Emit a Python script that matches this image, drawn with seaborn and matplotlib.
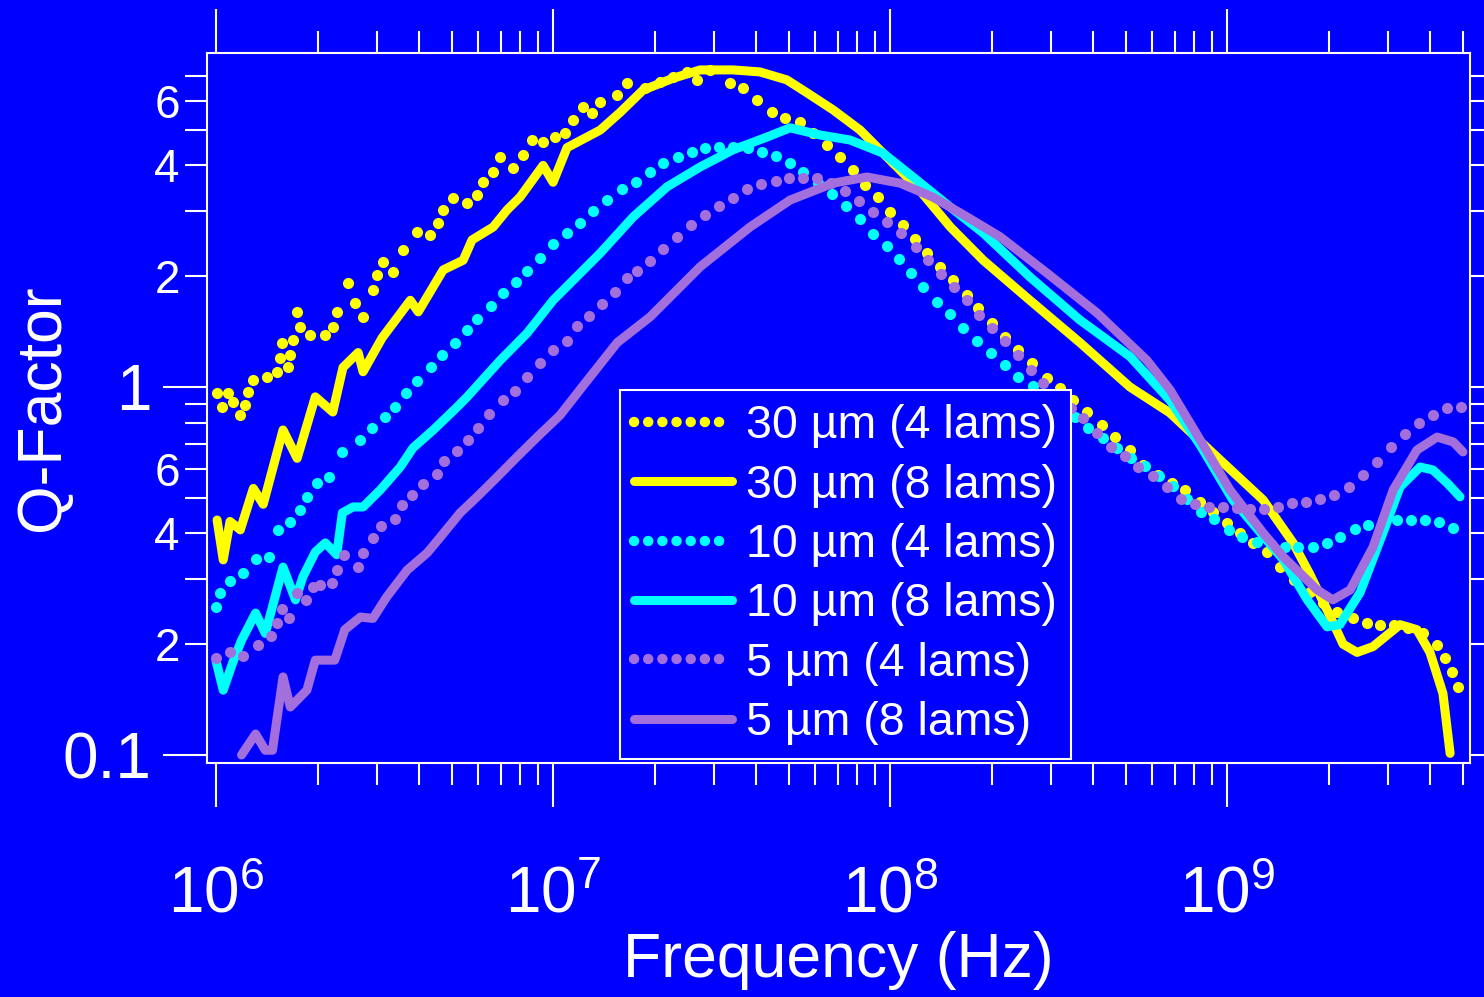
import matplotlib
matplotlib.use("Agg")
import matplotlib.pyplot as plt
from matplotlib.lines import Line2D
from matplotlib.ticker import FixedLocator, FixedFormatter, LogLocator, NullFormatter
import seaborn as sns

BLUE = "#0000FF"
YELLOW = "#FFFF00"
CYAN = "#00FFFF"
PURPLE = "#A26FDD"

# 30 um, 4 lams (dotted)
f_30_4 = [1.007e6, 1.042e6, 1.085e6, 1.123e6, 1.178e6, 1.219e6, 1.245e6, 1.288e6, 1.417e6, 1.517e6,
          1.548e6, 1.57e6, 1.635e6, 1.658e6, 1.692e6, 1.739e6, 1.775e6, 1.901e6, 2.106e6, 2.225e6,
          2.286e6, 2.465e6, 2.585e6, 2.731e6, 2.924e6, 3.005e6, 3.131e6, 3.352e6, 3.588e6, 3.948e6,
          4.315e6, 4.558e6, 4.717e6, 5.05e6, 5.557e6, 5.952e6, 6.2e6, 6.637e6, 6.962e6, 7.607e6,
          8.147e6, 8.663e6, 9.34e6, 1.014e7, 1.085e7, 1.146e7, 1.227e7, 1.305e7, 1.379e7, 1.549e7,
          1.659e7, 1.875e7, 2.077e7, 2.27e7, 2.498e7, 2.675e7, 2.924e7, 3.35e7, 3.663e7, 4.03e7,
          4.466e7, 4.88e7, 5.41e7, 5.91e7, 6.50e7, 7.11e7, 7.77e7, 8.43e7, 9.21e7, 1.0e8,
          1.093e8, 1.187e8, 1.288e8, 1.408e8, 1.538e8, 1.692e8, 1.824e8, 2.008e8, 2.194e8, 2.398e8,
          2.638e8, 2.924e8, 3.196e8, 3.49e8, 3.842e8, 4.257e8, 4.653e8, 5.156e8, 5.632e8, 6.242e8,
          6.867e8, 7.507e8, 8.317e8, 9.09e8, 1.0e9, 1.093e9, 1.195e9, 1.314e9, 1.437e9, 1.58e9,
          1.763e9, 1.927e9, 2.121e9, 2.366e9, 2.603e9, 2.844e9, 3.13e9, 3.44e9, 3.815e9, 4.2e9,
          4.436e9, 4.653e9, 4.847e9]
q_30_4 = [0.963, 0.882, 0.963, 0.91, 0.839, 0.894, 0.969, 1.045, 1.065, 1.098,
          1.199, 1.317, 1.133, 1.222, 1.342, 1.599, 1.456, 1.384, 1.384, 1.456,
          1.599, 1.917, 1.691, 1.55, 1.835, 2.015, 2.186, 2.053, 2.357, 2.637,
          2.588, 2.791, 3.027, 3.264, 3.162, 3.325, 3.606, 3.839, 4.217, 3.937,
          4.27, 4.691, 4.633, 4.779, 4.9, 5.315, 5.767, 5.555, 5.95, 6.216,
          6.70, 6.494, 6.744, 6.958, 7.178, 6.83, 7.27, 6.70, 6.49, 6.03,
          5.59, 5.38, 5.25, 4.90, 4.55, 4.22, 3.89, 3.54, 3.28, 2.99,
          2.76, 2.53, 2.31, 2.12, 1.953, 1.778, 1.64, 1.493, 1.367, 1.26,
          1.162, 1.058, 0.994, 0.922, 0.855, 0.788, 0.731, 0.674, 0.614, 0.577,
          0.548, 0.525, 0.487, 0.457, 0.427, 0.401, 0.377, 0.356, 0.324, 0.299,
          0.277, 0.259, 0.245, 0.236, 0.228, 0.226, 0.226, 0.221, 0.215, 0.199,
          0.184, 0.168, 0.153]

# 30 um, 8 lams (solid)
f_30_8 = [1.007e6, 1.05e6, 1.10e6, 1.18e6, 1.29e6, 1.38e6, 1.58e6, 1.74e6, 1.97e6, 2.22e6,
          2.38e6, 2.64e6, 2.73e6, 3.11e6, 3.77e6, 3.98e6, 4.72e6, 5.41e6, 5.75e6, 6.64e6,
          7.31e6, 7.98e6, 9.34e6, 1.0e7, 1.10e7, 1.38e7, 1.58e7, 1.85e7, 2.27e7, 2.73e7,
          3.42e7, 4.11e7, 4.94e7, 5.67e7, 6.78e7, 8.15e7, 9.53e7, 1.20e8, 1.51e8, 1.89e8,
          2.60e8, 3.66e8, 5.15e8, 6.77e8, 9.09e8, 1.28e9, 1.57e9, 1.76e9, 1.98e9, 2.21e9,
          2.43e9, 2.71e9, 3.26e9, 3.66e9, 4.0e9, 4.37e9, 4.59e9]
q_30_8 = [0.435, 0.339, 0.431, 0.409, 0.53, 0.48, 0.764, 0.64, 0.94, 0.855,
          1.13, 1.24, 1.10, 1.36, 1.72, 1.60, 2.08, 2.21, 2.51, 2.72,
          3.03, 3.28, 4.0, 3.6, 4.47, 4.99, 5.57, 6.41, 6.9, 7.27,
          7.27, 7.18, 6.83, 6.3, 5.66, 4.99, 4.32, 3.50, 2.72, 2.21,
          1.72, 1.32, 1.0, 0.85, 0.66, 0.493, 0.377, 0.31, 0.248, 0.20,
          0.19, 0.197, 0.226, 0.219, 0.19, 0.147, 0.101]

# 10 um, 4 lams (dotted)
f_10_4 = [1.0e6, 1.03e6, 1.10e6, 1.20e6, 1.31e6, 1.44e6, 1.53e6, 1.66e6, 1.78e6, 1.86e6,
          1.99e6, 2.16e6, 2.36e6, 2.68e6, 2.90e6, 3.17e6, 3.40e6, 3.66e6, 3.95e6, 4.34e6,
          4.69e6, 5.12e6, 5.56e6, 5.94e6, 6.54e6, 7.11e6, 7.77e6, 8.37e6, 9.15e6, 1.0e7,
          1.10e7, 1.20e7, 1.31e7, 1.45e7, 1.60e7, 1.76e7, 1.94e7, 2.12e7, 2.35e7, 2.58e7,
          2.82e7, 3.11e7, 3.42e7, 3.79e7, 4.17e7, 4.59e7, 5.05e7, 5.52e7, 6.11e7, 6.73e7,
          7.40e7, 8.15e7, 8.91e7, 9.80e7, 1.06e8, 1.15e8, 1.25e8, 1.38e8, 1.51e8, 1.65e8,
          1.81e8, 1.99e8, 2.19e8, 2.40e8, 2.66e8, 2.92e8, 3.21e8, 3.54e8, 3.87e8, 4.29e8,
          4.72e8, 5.19e8, 5.71e8, 6.29e8, 6.92e8, 7.61e8, 8.38e8, 9.15e8, 1.01e9, 1.11e9,
          1.23e9, 1.35e9, 1.49e9, 1.62e9, 1.80e9, 1.98e9, 2.16e9, 2.40e9, 2.62e9, 2.90e9,
          3.19e9, 3.51e9, 3.87e9, 4.26e9, 4.69e9]
q_10_4 = [0.253, 0.276, 0.297, 0.313, 0.341, 0.345, 0.409, 0.43, 0.463, 0.503,
          0.549, 0.569, 0.666, 0.718, 0.774, 0.829, 0.882, 0.963, 1.04, 1.13,
          1.22, 1.32, 1.43, 1.53, 1.66, 1.80, 1.93, 2.07, 2.24, 2.45,
          2.62, 2.79, 3.01, 3.22, 3.45, 3.6, 3.84, 4.06, 4.21, 4.35,
          4.46, 4.49, 4.49, 4.46, 4.35, 4.24, 4.06, 3.84, 3.59, 3.34,
          3.10, 2.86, 2.61, 2.41, 2.23, 2.04, 1.87, 1.70, 1.58, 1.45,
          1.33, 1.24, 1.15, 1.065, 1.006, 0.94, 0.882, 0.829, 0.774, 0.727,
          0.683, 0.641, 0.61, 0.573, 0.538, 0.496, 0.458, 0.438, 0.409, 0.392,
          0.379, 0.375, 0.367, 0.367, 0.367, 0.377, 0.391, 0.411, 0.421, 0.433,
          0.435, 0.435, 0.435, 0.430, 0.414]

# 10 um, 8 lams (solid)
f_10_8 = [1.0e6, 1.05e6, 1.12e6, 1.19e6, 1.31e6, 1.40e6, 1.58e6, 1.72e6, 1.81e6, 1.97e6,
          2.11e6, 2.28e6, 2.37e6, 2.55e6, 2.73e6, 3.07e6, 3.52e6, 3.84e6, 4.41e6, 5.19e6,
          5.56e6, 6.96e6, 8.37e6, 1.0e7, 1.38e7, 1.73e7, 2.18e7, 2.73e7, 3.42e7, 4.32e7,
          5.05e7, 6.19e7, 7.60e7, 9.53e7, 1.20e8, 1.51e8, 1.89e8, 2.60e8, 3.66e8, 5.15e8,
          6.77e8, 8.32e8, 1.04e9, 1.47e9, 1.73e9, 1.98e9, 2.16e9, 2.48e9, 2.90e9, 3.26e9,
          3.74e9, 4.08e9, 4.50e9, 4.91e9]
q_10_8 = [0.18, 0.150, 0.178, 0.205, 0.243, 0.214, 0.324, 0.264, 0.305, 0.356,
          0.377, 0.35, 0.455, 0.472, 0.472, 0.525, 0.606, 0.683, 0.764, 0.882,
          0.94, 1.18, 1.40, 1.72, 2.31, 2.90, 3.50, 3.96, 4.41, 4.78,
          5.06, 4.84, 4.69, 4.32, 3.65, 3.08, 2.62, 1.99, 1.52, 1.21,
          0.92, 0.695, 0.493, 0.339, 0.264, 0.223, 0.226, 0.276, 0.401, 0.535,
          0.606, 0.595, 0.548, 0.503]

# 5 um, 4 lams (dotted)
f_5_4 = [1.0e6, 1.10e6, 1.20e6, 1.33e6, 1.46e6, 1.52e6, 1.57e6, 1.65e6, 1.74e6, 1.85e6,
         1.94e6, 2.04e6, 2.21e6, 2.28e6, 2.40e6, 2.64e6, 2.73e6, 2.92e6, 3.09e6, 3.40e6,
         3.56e6, 3.81e6, 4.12e6, 4.53e6, 4.75e6, 5.18e6, 5.59e6, 5.98e6, 6.45e6, 7.10e6,
         7.72e6, 8.37e6, 9.15e6, 1.0e7, 1.10e7, 1.18e7, 1.28e7, 1.40e7, 1.53e7, 1.66e7,
         1.78e7, 1.94e7, 2.12e7, 2.33e7, 2.56e7, 2.82e7, 3.11e7, 3.42e7, 3.76e7, 4.15e7,
         4.58e7, 5.02e7, 5.52e7, 6.08e7, 6.68e7, 7.36e7, 8.09e7, 8.91e7, 9.80e7, 1.08e8,
         1.19e8, 1.30e8, 1.42e8, 1.55e8, 1.69e8, 1.84e8, 2.01e8, 2.19e8, 2.40e8, 2.62e8,
         2.85e8, 3.13e8, 3.44e8, 3.74e8, 4.10e8, 4.53e8, 4.98e8, 5.45e8, 6.03e8, 6.65e8,
         7.28e8, 8.05e8, 8.82e8, 9.71e8, 1.07e9, 1.17e9, 1.29e9, 1.42e9, 1.56e9, 1.72e9,
         1.89e9, 2.08e9, 2.30e9, 2.53e9, 2.79e9, 3.06e9, 3.37e9, 3.72e9, 4.09e9, 4.50e9,
         4.96e9]
q_5_4 = [0.184, 0.19, 0.186, 0.199, 0.21, 0.229, 0.25, 0.236, 0.276, 0.264,
         0.286, 0.29, 0.293, 0.318, 0.35, 0.324, 0.354, 0.389, 0.419, 0.438,
         0.478, 0.508, 0.545, 0.58, 0.629, 0.67, 0.718, 0.774, 0.845, 0.922,
         0.975, 1.065, 1.16, 1.26, 1.33, 1.46, 1.56, 1.68, 1.81, 1.98,
         2.06, 2.20, 2.37, 2.56, 2.76, 2.93, 3.10, 3.26, 3.45, 3.56,
         3.62, 3.69, 3.69, 3.69, 3.59, 3.41, 3.20, 2.99, 2.81, 2.62,
         2.40, 2.21, 2.03, 1.87, 1.72, 1.57, 1.45, 1.33, 1.22, 1.11,
         1.025, 0.94, 0.877, 0.824, 0.75, 0.687, 0.65, 0.606, 0.573, 0.535,
         0.496, 0.481, 0.472, 0.472, 0.47, 0.466, 0.466, 0.472, 0.484, 0.487,
         0.496, 0.509, 0.535, 0.577, 0.626, 0.687, 0.745, 0.798, 0.839, 0.877,
         0.882]

# 5 um, 8 lams (solid)
f_5_8 = [1.19e6, 1.31e6, 1.40e6, 1.47e6, 1.58e6, 1.66e6, 1.86e6, 1.97e6, 2.25e6, 2.41e6,
         2.68e6, 2.92e6, 3.21e6, 3.69e6, 4.23e6, 4.63e6, 5.30e6, 5.95e6, 6.82e6, 7.82e6,
         8.97e6, 1.05e7, 1.23e7, 1.55e7, 1.94e7, 2.73e7, 3.84e7, 5.05e7, 6.78e7, 8.55e7,
         1.07e8, 1.34e8, 1.69e8, 2.12e8, 2.92e8, 4.11e8, 5.79e8, 6.78e8, 8.32e8, 1.02e9,
         1.28e9, 1.47e9, 1.85e9, 2.06e9, 2.32e9, 2.71e9, 3.11e9, 3.66e9, 4.20e9, 4.69e9,
         5.01e9]
q_5_8 = [0.10, 0.114, 0.103, 0.103, 0.163, 0.135, 0.15, 0.181, 0.181, 0.219,
         0.237, 0.235, 0.269, 0.318, 0.354, 0.391, 0.455, 0.503, 0.569, 0.646,
         0.731, 0.839, 1.01, 1.32, 1.55, 2.12, 2.72, 3.22, 3.58, 3.72,
         3.58, 3.28, 2.90, 2.56, 2.04, 1.59, 1.18, 0.981, 0.718, 0.525,
         0.401, 0.345, 0.281, 0.264, 0.281, 0.367, 0.525, 0.674, 0.731, 0.709,
         0.666]

series = [
    ("30 µm (4 lams)", f_30_4, q_30_4, YELLOW, "dots"),
    ("30 µm (8 lams)", f_30_8, q_30_8, YELLOW, "line"),
    ("10 µm (4 lams)", f_10_4, q_10_4, CYAN, "dots"),
    ("10 µm (8 lams)", f_10_8, q_10_8, CYAN, "line"),
    ("5 µm (4 lams)", f_5_4, q_5_4, PURPLE, "dots"),
    ("5 µm (8 lams)", f_5_8, q_5_8, PURPLE, "line"),
]

x_major = [1e6, 1e7, 1e8, 1e9]
x_major_labels = [r"$\mathregular{10^{6}}$", r"$\mathregular{10^{7}}$",
                  r"$\mathregular{10^{8}}$", r"$\mathregular{10^{9}}$"]
y_major = [0.1, 1]
y_major_labels = ["0.1", "1"]
y_minor = [0.2, 0.3, 0.4, 0.5, 0.6, 0.7, 0.8, 0.9, 2, 3, 4, 5, 6, 7]
y_minor_labels = ["2", "", "4", "", "6", "", "", "", "2", "", "4", "", "6", ""]

sns.set_theme(style="ticks")
plt.rcParams["font.family"] = ["Liberation Sans", "DejaVu Sans"]
plt.rcParams["mathtext.fontset"] = "custom"
plt.rcParams["mathtext.rm"] = "Liberation Sans"
plt.rcParams["mathtext.it"] = "Liberation Sans:italic"
plt.rcParams["mathtext.bf"] = "Liberation Sans:bold"

fig = plt.figure(figsize=(14.84, 9.97), dpi=100, facecolor=BLUE)
ax = fig.add_axes([0.1395, 0.2347, 0.8511, 0.7121])
ax.set_facecolor(BLUE)
ax.set_xscale("log")
ax.set_yscale("log")

handles = []
for label, f, q, color, style in series:
    if style == "dots":
        sns.scatterplot(x=f, y=q, ax=ax, color=color, s=64, linewidth=0, zorder=3)
        handles.append(Line2D([], [], color=color, lw=7.5, linestyle=(0, (0.01, 1.35)),
                              dash_capstyle="round"))
    else:
        sns.lineplot(x=f, y=q, ax=ax, color=color, lw=6.5, estimator=None, sort=False,
                     solid_capstyle="round", solid_joinstyle="round", zorder=3)
        handles.append(Line2D([], [], color=color, lw=6.5, solid_capstyle="round"))

ax.set_xlim(9.4e5, 5.26e9)
ax.set_ylim(0.0951, 8.08)

ax.xaxis.set_major_locator(FixedLocator(x_major))
ax.xaxis.set_major_formatter(FixedFormatter(x_major_labels))
ax.xaxis.set_minor_locator(LogLocator(base=10, subs=range(2, 10), numticks=30))
ax.xaxis.set_minor_formatter(NullFormatter())
ax.yaxis.set_major_locator(FixedLocator(y_major))
ax.yaxis.set_major_formatter(FixedFormatter(y_major_labels))
ax.yaxis.set_minor_locator(FixedLocator(y_minor))
ax.yaxis.set_minor_formatter(FixedFormatter(y_minor_labels))

ax.tick_params(which="both", direction="out", color="white", labelcolor="white",
               width=1.5, top=True, right=True)
ax.tick_params(which="major", length=32)
ax.tick_params(which="minor", length=16)
ax.tick_params(axis="x", which="major", labelsize=46, pad=42)
ax.tick_params(axis="y", which="major", labelsize=46, pad=8)
ax.tick_params(axis="y", which="minor", labelsize=33, pad=3.5)

for sp in ax.spines.values():
    sp.set_color("white")
    sp.set_linewidth(1.5)

ax.set_xlabel("Frequency (Hz)", fontsize=45, color="white", labelpad=4)
ax.set_ylabel("Q-Factor", fontsize=45, color="white")
ax.yaxis.set_label_coords(-0.107, 0.5)

leg = ax.legend(handles, [s[0] for s in series], loc="upper left",
                bbox_to_anchor=(0.327, 0.525), borderaxespad=0, frameon=True,
                fancybox=False, facecolor=BLUE, edgecolor="white", framealpha=1,
                fontsize=33.5, labelcolor="white", handlelength=2.1, handletextpad=0.3,
                labelspacing=0.33, borderpad=0.3)
leg.get_frame().set_linewidth(1.5)

fig.savefig("out.png", dpi=100, facecolor=BLUE)
